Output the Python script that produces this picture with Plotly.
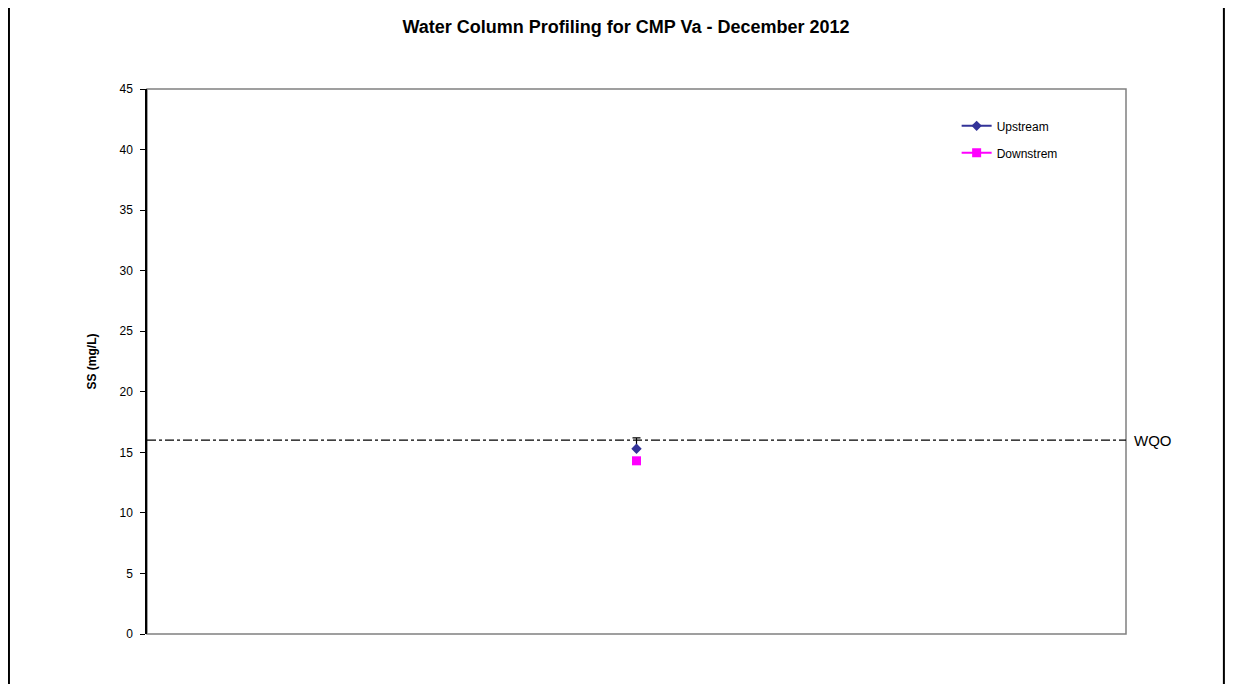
import plotly.graph_objects as go

# data
categories = ["Dec 2012"]
upstream = [15.3]
upstream_err = [0.9]
downstream = [14.3]
wqo = 16.0
y_ticks = [0, 5, 10, 15, 20, 25, 30, 35, 40, 45]

fig = go.Figure()

fig.add_trace(go.Scatter(
    x=categories, y=upstream, name="Upstream", mode="lines+markers",
    legendgroup="up",
    line=dict(color="#333399", width=2),
    marker=dict(symbol="diamond", size=8, color="#333399"),
    error_y=dict(type="data", array=upstream_err, arrayminus=[0] * len(upstream_err),
                 color="black", thickness=1.2, width=4),
))
fig.add_trace(go.Scatter(
    x=categories, y=downstream, name="Downstrem", mode="lines+markers",
    legendgroup="down",
    line=dict(color="#FF00FF", width=2),
    marker=dict(symbol="square", size=9, color="#FF00FF"),
))

# WQO reference line
fig.add_shape(type="line", xref="paper", yref="y", x0=0, x1=1, y0=wqo, y1=wqo,
              line=dict(color="black", width=1.3, dash="dashdot"))
fig.add_annotation(text="WQO", xref="paper", yref="y", x=1.0, y=wqo, xshift=6,
                   xanchor="left", showarrow=False,
                   font=dict(family="Arial", size=15, color="black"))

# grey frame round the plot area
fig.add_shape(type="rect", xref="paper", yref="paper", x0=0, x1=1, y0=0, y1=1,
              line=dict(color="#808080", width=1.5), layer="below")

# outer side borders
for xv in [-0.141, 1.10]:
    fig.add_shape(type="line", xref="paper", yref="paper", x0=xv, x1=xv, y0=-1, y1=2,
                  line=dict(color="black", width=2))

fig.update_layout(
    width=1236, height=676,
    paper_bgcolor="white", plot_bgcolor="white",
    margin=dict(l=139, r=118, t=81, b=50),
    title=dict(text="<b>Water Column Profiling for CMP Va - December 2012</b>",
               x=0.5, xref="container", y=0.972, yanchor="middle",
               font=dict(family="Arial", size=18, color="black")),
    font=dict(family="Arial", size=12, color="black"),
    showlegend=True,
    legend=dict(x=0.827, y=0.959, xanchor="left", yanchor="top",
                bgcolor="rgba(0,0,0,0)", font=dict(size=12),
                itemwidth=30, tracegroupgap=8),
    xaxis=dict(showticklabels=False, showgrid=False, zeroline=False,
               showline=False, ticks=""),
    yaxis=dict(title=dict(text="<b>SS (mg/L)</b>", standoff=20, font=dict(size=12)),
               range=[0, 45], tickvals=y_ticks, showgrid=False, zeroline=False,
               showline=True, linecolor="black", linewidth=1.5,
               ticks="outside", ticklen=5, tickcolor="black", tickfont=dict(size=12),
               ticklabelstandoff=5),
)

fig.write_html("out.html")
